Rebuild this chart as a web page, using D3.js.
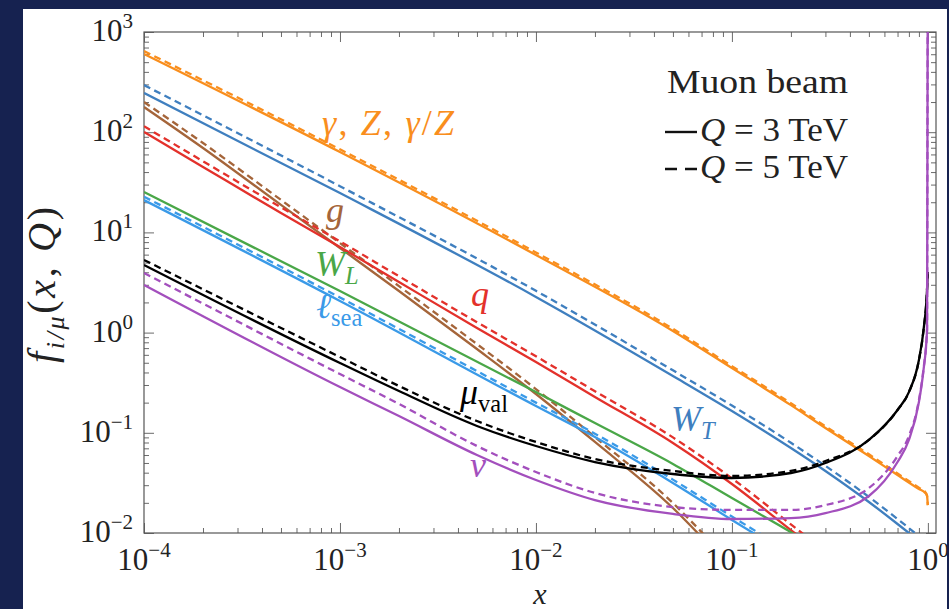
<!DOCTYPE html>
<html><head><meta charset="utf-8">
<script src="https://cdn.jsdelivr.net/npm/d3@7"></script>
<style>
html,body{margin:0;padding:0;background:#162250;}
svg{display:block;}
</style>
</head><body>
<svg id="chart" width="949" height="609"></svg>
<script>
// ---------------- data ----------------
const xTickValues = [1e-4, 1e-3, 1e-2, 1e-1, 1];
const xTickExponents = ["−4", "−3", "−2", "−1", "0"];
const yTickValues = [1e-2, 1e-1, 1, 10, 100, 1000];
const yTickExponents = ["−2", "−1", "0", "1", "2", "3"];

// gamma, Z, gamma/Z
const xGamma   = [1e-4, 1e-3, 1e-2, 0.05, 0.1, 0.2, 0.3, 0.5, 0.7, 0.9, 0.97, 0.99, 0.999];
const gamma3   = [603, 63.4, 5.95, 1.04, 0.443, 0.189, 0.1117, 0.0586, 0.0379, 0.0275, 0.0251, 0.0234, 0.019];
const gamma5   = [645, 67.5, 6.3, 1.09, 0.463, 0.197, 0.116, 0.061, 0.0393, 0.0283, 0.0256, 0.0236, 0.019];
// W_T
const xWT      = [1e-4, 1e-3, 1e-2, 0.05, 0.1, 0.2, 0.3, 0.5, 0.7, 0.8, 0.9];
const wt3      = [246, 24.7, 2.27, 0.369, 0.165, 0.0705, 0.0416, 0.0204, 0.0123, 0.0100, 0.0083];
const wt5      = [295, 28.9, 2.61, 0.42, 0.187, 0.0795, 0.0468, 0.0229, 0.0138, 0.0112, 0.0093];
// gluon
const xG       = [1e-4, 2e-4, 5e-4, 1e-3, 2e-3, 5e-3, 1e-2, 2e-2, 5e-2, 0.08];
const g3       = [178.5, 69.6, 18.8, 6.99, 2.60, 0.686, 0.244, 0.081, 0.01776, 0.00692];
const g5       = [200, 78, 21.1, 7.83, 2.91, 0.768, 0.273, 0.0907, 0.0199, 0.00775];
// quark
const xQ       = [1e-4, 2e-4, 5e-4, 1e-3, 2e-3, 5e-3, 1e-2, 2e-2, 5e-2, 0.1, 0.2, 0.3];
const q3       = [100.5, 45.0, 15.6, 7.15, 3.20, 1.11, 0.509, 0.228, 0.079, 0.0308, 0.0107, 0.00576];
const q5       = [114.6, 51.3, 17.8, 8.15, 3.65, 1.27, 0.58, 0.26, 0.090, 0.0351, 0.0122, 0.00657];
// W_L
const xWL      = [1e-4, 1e-3, 1e-2, 2e-2, 5e-2, 0.1, 0.2, 0.3];
const wl3      = [25.3, 2.60, 0.255, 0.125, 0.0489, 0.0223, 0.0102, 0.0063];
// lepton sea
const xLsea    = [1e-4, 1e-3, 1e-2, 2e-2, 5e-2, 0.1, 0.15];
const lsea3    = [21.0, 2.07, 0.185, 0.0908, 0.0316, 0.0135, 0.0083];
const lsea5    = [22.7, 2.24, 0.200, 0.098, 0.0341, 0.0146, 0.0090];
// muon valence
const xMu      = [1e-4, 1e-3, 2e-3, 5e-3, 1e-2, 2e-2, 5e-2, 0.1, 0.2, 0.3, 0.5, 0.7, 0.8, 0.9, 0.95, 0.99, 0.999];
const mu3      = [4.73, 0.497, 0.261, 0.117, 0.0738, 0.0511, 0.0388, 0.0354, 0.0397, 0.050, 0.0848, 0.169, 0.255, 0.533, 1.06, 2.66, 4.03];
const mu5      = [5.31, 0.570, 0.293, 0.131, 0.081, 0.0548, 0.0416, 0.0371, 0.0416, 0.0523, 0.0848, 0.169, 0.255, 0.533, 1.06, 2.66, 4.03];
// neutrino
const xNu      = [1e-4, 1e-3, 2e-3, 5e-3, 1e-2, 2e-2, 5e-2, 0.1, 0.2, 0.3, 0.5, 0.7, 0.8, 0.9, 0.95, 0.99, 0.995, 0.999];
const nu3      = [2.99, 0.286, 0.147, 0.060, 0.0338, 0.0213, 0.0155, 0.0138, 0.0141, 0.0158, 0.0234, 0.0511, 0.0848, 0.203, 0.424, 1.06, 100, 5000];
const nu5      = [3.94, 0.386, 0.194, 0.0738, 0.0406, 0.0251, 0.01816, 0.0170, 0.0170, 0.0190, 0.0281, 0.0586, 0.0929, 0.212, 0.434, 1.06, 100, 5000];

const series = [
  {xs: xGamma, s3: gamma3, s5: gamma5, color: "#f98e1d"},
  {xs: xWT,    s3: wt3,    s5: wt5,    color: "#3f7fbf"},
  {xs: xG,     s3: g3,     s5: g5,     color: "#a5653a"},
  {xs: xQ,     s3: q3,     s5: q5,     color: "#e3312b"},
  {xs: xWL,    s3: wl3,    s5: null,   color: "#4aa748"},
  {xs: xLsea,  s3: lsea3,  s5: lsea5,  color: "#3a9ae8"},
  {xs: xMu,    s3: mu3,    s5: mu5,    color: "#000000"},
  {xs: xNu,    s3: nu3,    s5: nu5,    color: "#a34fbd"}
];

// ---------------- layout ----------------
const svg = d3.select("#chart");
const L = 144, R = 936, T = 32, B = 533;
const serif = "'Liberation Serif', 'Times New Roman', serif";

svg.append("rect").attr("x", 0).attr("y", 0).attr("width", 949).attr("height", 609).attr("fill", "#162250");
const defs = svg.append("defs");
defs.append("clipPath").attr("id", "panelClip").append("rect")
  .attr("x", 23).attr("y", 9).attr("width", 924).attr("height", 600);
defs.append("clipPath").attr("id", "plotClip").append("rect")
  .attr("x", L).attr("y", T).attr("width", R - L).attr("height", B - T);

const root = svg.append("g").attr("clip-path", "url(#panelClip)");
root.append("rect").attr("x", 23).attr("y", 9).attr("width", 924).attr("height", 600).attr("fill", "#ffffff");

const x = d3.scaleLog().domain([1e-4, 1.1]).range([L, R]);
const y = d3.scaleLog().domain([1e-2, 1e3]).range([B, T]);

// minor ticks
const xMinor = [], yMinor = [];
for (let e = -4; e <= -1; e++) for (let m = 2; m <= 9; m++) xMinor.push(m * Math.pow(10, e));
for (let e = -2; e <= 2; e++) for (let m = 2; m <= 9; m++) yMinor.push(m * Math.pow(10, e));

function styleAxis(g) {
  g.select(".domain").remove();
  g.selectAll("line").attr("stroke", "#6b6b6b").attr("stroke-width", 1);
  g.selectAll("text").remove();
}
const axes = root.append("g");
[[xTickValues, 10], [xMinor, 5]].forEach(([vals, len]) => {
  axes.append("g").attr("transform", `translate(0,${B})`)
    .call(d3.axisTop(x).tickValues(vals).tickSize(len).tickFormat("")).call(styleAxis);
  axes.append("g").attr("transform", `translate(0,${T})`)
    .call(d3.axisBottom(x).tickValues(vals).tickSize(len).tickFormat("")).call(styleAxis);
});
[[yTickValues, 10], [yMinor, 5]].forEach(([vals, len]) => {
  axes.append("g").attr("transform", `translate(${L},0)`)
    .call(d3.axisRight(y).tickValues(vals).tickSize(len).tickFormat("")).call(styleAxis);
  axes.append("g").attr("transform", `translate(${R},0)`)
    .call(d3.axisLeft(y).tickValues(vals).tickSize(len).tickFormat("")).call(styleAxis);
});
root.append("rect").attr("x", L).attr("y", T).attr("width", R - L).attr("height", B - T)
  .attr("fill", "none").attr("stroke", "#555").attr("stroke-width", 1.2);

// tick labels
const tickFont = 31, supFont = 21;
xTickValues.forEach((v, i) => {
  const t = root.append("text").attr("x", x(v)).attr("y", 570)
    .attr("text-anchor", "middle").attr("font-family", serif).attr("font-size", tickFont).attr("fill", "#222");
  t.append("tspan").text("10");
  t.append("tspan").attr("dy", -13).attr("font-size", supFont).text(xTickExponents[i]);
});
yTickValues.forEach((v, i) => {
  const t = root.append("text").attr("x", 133).attr("y", y(v) + 9)
    .attr("text-anchor", "end").attr("font-family", serif).attr("font-size", tickFont).attr("fill", "#222");
  t.append("tspan").text("10");
  t.append("tspan").attr("dy", -13).attr("font-size", supFont).text(yTickExponents[i]);
});

// axis titles
root.append("text").attr("x", 540).attr("y", 604).attr("text-anchor", "middle")
  .attr("font-family", serif).attr("font-style", "italic").attr("font-size", 30).attr("fill", "#222").text("x");
const yt = root.append("text").attr("transform", "translate(55,285) rotate(-90)")
  .attr("text-anchor", "middle").attr("font-family", serif).attr("font-size", 40).attr("fill", "#222")
  .attr("textLength", 156).attr("lengthAdjust", "spacing");
yt.append("tspan").attr("font-style", "italic").text("f");
yt.append("tspan").attr("font-style", "italic").attr("font-size", 26).attr("dy", 9).text("i/μ");
yt.append("tspan").attr("dy", -9).text("(");
yt.append("tspan").attr("font-style", "italic").text("x");
yt.append("tspan").text(", ");
yt.append("tspan").attr("font-style", "italic").text("Q");
yt.append("tspan").text(")");

// curves
const plot = root.append("g").attr("clip-path", "url(#plotClip)");
const line = d3.line().x(d => x(d[0])).y(d => y(d[1])).curve(d3.curveMonotoneX);
series.forEach(s => {
  if (s.s5) {
    plot.append("path").attr("d", line(s.xs.map((v, i) => [v, s.s5[i]])))
      .attr("fill", "none").attr("stroke", s.color).attr("stroke-width", 2.3)
      .attr("stroke-dasharray", "7,4.5");
  }
  plot.append("path").attr("d", line(s.xs.map((v, i) => [v, s.s3[i]])))
    .attr("fill", "none").attr("stroke", s.color).attr("stroke-width", 2.3);
});

// curve labels
function mathLabel(px, py, parts, color, size, width) {
  const t = root.append("text").attr("x", px).attr("y", py).attr("font-family", serif)
    .attr("font-size", size).attr("fill", color);
  if (width) t.attr("textLength", width).attr("lengthAdjust", "spacing");
  let shift = 0;
  parts.forEach(p => {
    const sp = t.append("tspan").text(p.t);
    if (p.it) sp.attr("font-style", "italic");
    const target = p.sub ? 8 : 0;
    if (target !== shift) { sp.attr("dy", target - shift); shift = target; }
    if (p.sub) sp.attr("font-size", size * 0.68);
  });
}
mathLabel(322, 135, [{t: "γ", it: 1}, {t: ", "}, {t: "Z", it: 1}, {t: ", "}, {t: "γ", it: 1}, {t: "/"}, {t: "Z", it: 1}], "#f98e1d", 36, 132);
mathLabel(326, 222, [{t: "g", it: 1}], "#a5653a", 36);
mathLabel(315, 276, [{t: "W", it: 1}, {t: "L", it: 1, sub: 1}], "#4aa748", 36);
mathLabel(316, 318, [{t: "ℓ", it: 1}, {t: "sea", sub: 1}], "#3a9ae8", 36);
mathLabel(471, 306, [{t: "q", it: 1}], "#e3312b", 36);
mathLabel(460, 404, [{t: "μ", it: 1}, {t: "val", sub: 1}], "#000000", 36);
mathLabel(470, 477, [{t: "ν", it: 1}], "#a34fbd", 36);
mathLabel(671, 431, [{t: "W", it: 1}, {t: "T", it: 1, sub: 1}], "#3f7fbf", 36);

// legend
const lg = root.append("g").attr("font-family", serif).attr("fill", "#222");
lg.append("text").attr("x", 667).attr("y", 93).attr("font-size", 34)
  .attr("textLength", 181).attr("lengthAdjust", "spacingAndGlyphs").text("Muon beam");
const legendRows = [{y: 141, dash: null, label: "3"}, {y: 178, dash: "12,8", label: "5"}];
legendRows.forEach(r => {
  lg.append("line").attr("x1", 665).attr("x2", 697).attr("y1", r.y - 9).attr("y2", r.y - 9)
    .attr("stroke", "#111").attr("stroke-width", 2.4).attr("stroke-dasharray", r.dash);
  const t = lg.append("text").attr("x", 700).attr("y", r.y).attr("font-size", 34)
    .attr("textLength", 148).attr("lengthAdjust", "spacingAndGlyphs");
  t.append("tspan").attr("font-style", "italic").text("Q");
  t.append("tspan").text(" = " + r.label + " TeV");
});
</script>
</body></html>
